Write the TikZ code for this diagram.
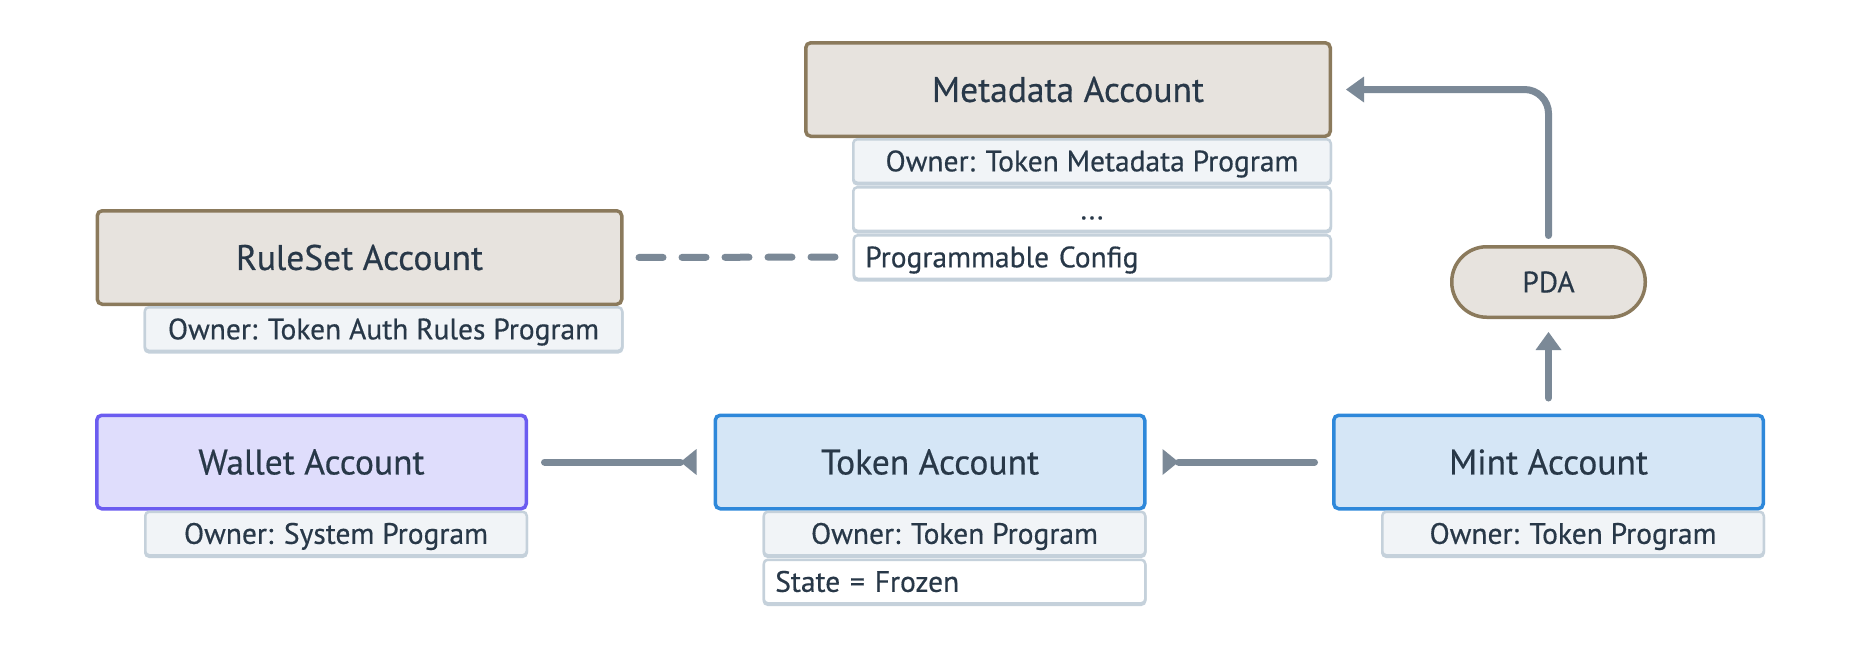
\documentclass[tikz,border=0pt]{standalone}
\usepackage{fontspec}
\setmainfont{PT Sans}[FakeBold=0.5]
\usetikzlibrary{arrows.meta,positioning}

\definecolor{ink}{HTML}{283848}
\definecolor{brownline}{HTML}{8B7A5C}
\definecolor{brownfill}{HTML}{E7E3DE}
\definecolor{blueline}{HTML}{2E88DA}
\definecolor{bluefill}{HTML}{D5E6F6}
\definecolor{purpleline}{HTML}{6B5CF0}
\definecolor{purplefill}{HTML}{DFDDFC}
\definecolor{rowline}{HTML}{C5D1DB}
\definecolor{rowfill}{HTML}{F1F4F7}
\definecolor{linkgrey}{HTML}{7B8997}

\newcommand\acctfont{\fontsize{35.5}{40}\selectfont}
\newcommand\ownerfont{\fontsize{29.5}{34}\selectfont}

\begin{document}
\begin{tikzpicture}[x=1pt,y=-1pt]
    \tikzstyle{acct} = [draw,line width=3.5pt,rounded corners=5pt,minimum width=524.5pt,minimum height=93.5pt,inner sep=0pt,text=ink,font=\acctfont,text height=29pt,text depth=4.15pt]
    \tikzstyle{metabox} = [acct,draw=brownline,fill=brownfill]
    \tikzstyle{bluebox} = [acct,draw=blueline,fill=bluefill,minimum width=429.5pt]
    \tikzstyle{purplebox} = [acct,draw=purpleline,fill=purplefill,minimum width=429.5pt]
    \tikzstyle{pda} = [draw=brownline,fill=brownfill,line width=3.5pt,rounded corners=35pt,minimum width=193.5pt,minimum height=70.5pt,text=ink,font=\ownerfont,text height=25pt,text depth=4.35pt]
    \tikzstyle{row} = [draw=rowline,line width=2.5pt,rounded corners=4pt,minimum height=43.5pt,inner xsep=11.5pt,inner ysep=0pt,text=ink,font=\ownerfont,text height=25pt,text depth=4.35pt,preaction={draw=rowline,line width=2.5pt,transform canvas={yshift=-1.5pt}}]
    \tikzstyle{owner} = [row,fill=rowfill,anchor=north east]
    \tikzstyle{blank} = [row,fill=white]
    \tikzstyle{link} = [draw=linkgrey,line width=7pt,line cap=round]

    \useasboundingbox (0,0) rectangle (1860,648);

    % accounts
    \node[metabox] (meta) at (1068,89.5) {Metadata Account};
    \node[metabox] (ruleset) at (359.5,257.5) {RuleSet Account};
    \node[purplebox] (wallet) at (311.5,462) {Wallet Account};
    \node[bluebox] (token) at (930,462) {Token Account};
    \node[bluebox] (mint) at (1548.5,462) {Mint Account};
    \node[pda] (pda) at (1548.5,282) {PDA};

    % fields
    \node[owner,minimum width=477.5pt] (metaowner) at (meta.south east) {Owner: Token Metadata Program};
    \node[blank,minimum width=477.5pt,below=2pt of metaowner.south east,anchor=north east] (dots) {...};
    \node[blank,text width=454pt,align=left,below=2pt of dots.south east,anchor=north east] (cfg) {Programmable Config};
    \node[owner,minimum width=477.5pt] (rulesetowner) at (ruleset.south east) {Owner: Token Auth Rules Program};
    \node[owner,minimum width=381.5pt] (walletowner) at (wallet.south east) {Owner: System Program};
    \node[owner,minimum width=381.5pt] (tokenowner) at (token.south east) {Owner: Token Program};
    \node[blank,text width=358.5pt,align=left,below=2pt of tokenowner.south east,anchor=north east] (state) {State = Frozen};
    \node[owner,minimum width=381.5pt] (mintowner) at (mint.south east) {Owner: Token Program};

    % links
    \draw[link,-{Triangle[reversed,length=16pt,width=26pt,line width=0pt]},shorten <=16.5pt,shorten >=17pt] (wallet.east) -- (token.west);
    \draw[link,-{Triangle[reversed,length=16pt,width=26pt,line width=0pt]},shorten <=17.5pt,shorten >=16pt] (mint.west) -- (token.east);
    \draw[link,-{Triangle[length=18pt,width=26pt,line width=0pt]},shorten <=15.5pt,shorten >=13pt] (mint.north) -- (pda.south);
    \draw[link,-{Triangle[length=18pt,width=26pt,line width=0pt]},rounded corners=24pt,shorten <=9.5pt,shorten >=14pt] (pda.north) |- (meta.east);
    \draw[link,dash pattern=on 24pt off 19pt,shorten <=15.5pt,shorten >=16.5pt] (ruleset.east) -- (cfg.west);

\end{tikzpicture}
\end{document}
